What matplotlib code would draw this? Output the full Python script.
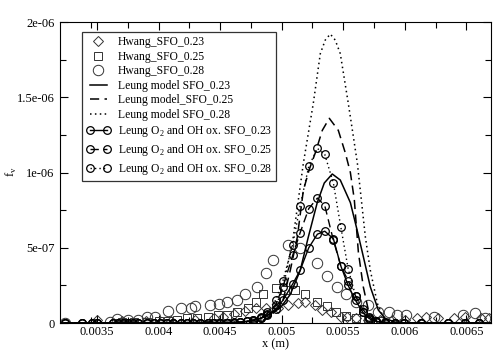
import matplotlib
matplotlib.use("Agg")
import matplotlib.pyplot as plt
from matplotlib.legend_handler import HandlerLine2D

plt.rcParams['font.family'] = ['Liberation Serif', 'DejaVu Serif']
plt.rcParams['mathtext.fontset'] = 'custom'
plt.rcParams['mathtext.rm'] = 'Liberation Serif'

SCALE = 1e-6

# ---- Hwang experimental data (y in units of 1e-6) ----
hw23_x = [0.0035, 0.0037, 0.0039, 0.0041, 0.0043, 0.00445, 0.00452, 0.00461, 0.0047, 0.00479,
          0.00487, 0.00497, 0.00505, 0.00513, 0.00519, 0.00527, 0.00533, 0.0054, 0.00548, 0.00553,
          0.0056, 0.0057, 0.0058, 0.0059, 0.006, 0.0061, 0.00617, 0.00627, 0.0064, 0.00649,
          0.00662, 0.00668]
hw23_y = [0.02, 0.01, 0.01, 0.01, 0.02, 0.03, 0.04, 0.06, 0.08, 0.10,
          0.10, 0.10, 0.12, 0.13, 0.14, 0.12, 0.086, 0.07, 0.04, 0.04,
          0.03, 0.02, 0.02, 0.02, 0.02, 0.03, 0.04, 0.03, 0.03, 0.04,
          0.03, 0.03]

hw25_x = [0.0037, 0.0038, 0.00391, 0.0040, 0.00408, 0.00415, 0.00423, 0.00431, 0.0044, 0.00448,
          0.00456, 0.00464, 0.00473, 0.00479, 0.00485, 0.00495, 0.00503, 0.00511, 0.00519, 0.00529,
          0.00537, 0.00544, 0.00552, 0.0056, 0.0057, 0.0058]
hw25_y = [0.005, 0.005, 0.007, 0.01, 0.01, 0.02, 0.033, 0.033, 0.04, 0.053,
          0.053, 0.073, 0.10, 0.14, 0.19, 0.23, 0.22, 0.22, 0.19, 0.14,
          0.11, 0.07, 0.047, 0.03, 0.02, 0.01]

hw28_x = [0.00324, 0.00361, 0.00366, 0.00375, 0.00383, 0.00391, 0.00397, 0.00408, 0.00418, 0.00426,
          0.0043, 0.00442, 0.00449, 0.00456, 0.00464, 0.0047, 0.0048, 0.00487, 0.00493, 0.00505,
          0.00515, 0.00529, 0.00537, 0.00545, 0.00552, 0.0056, 0.0057, 0.00578, 0.00587, 0.00594,
          0.00601, 0.00624, 0.00647, 0.00657, 0.00665]
hw28_y = [0.0, 0.007, 0.027, 0.02, 0.02, 0.04, 0.04, 0.08, 0.10, 0.10,
          0.113, 0.12, 0.126, 0.14, 0.15, 0.19, 0.24, 0.33, 0.42, 0.52,
          0.50, 0.40, 0.31, 0.24, 0.19, 0.14, 0.12, 0.07, 0.07, 0.05,
          0.05, 0.04, 0.05, 0.066, 0.03]

# ---- Leung model curves ----
lm23_x = [0.0032, 0.00466, 0.004745, 0.004826, 0.004907, 0.004989, 0.00507, 0.005151, 0.005216, 0.005289,
          0.005346, 0.005411, 0.005476, 0.005558, 0.005606, 0.005655, 0.00572, 0.005785, 0.005842, 0.005923,
          0.006005, 0.0067]
lm23_y = [0.0, 0.005, 0.015, 0.03, 0.06, 0.10, 0.19, 0.35, 0.57, 0.80,
          0.93, 0.99, 0.95, 0.80, 0.64, 0.47, 0.24, 0.086, 0.03, 0.005,
          0.0, 0.0]

lm25_x = [0.0032, 0.00472, 0.004826, 0.004907, 0.005005, 0.00507, 0.005127, 0.005176, 0.005224, 0.005273,
          0.00533, 0.005387, 0.00546, 0.005517, 0.005558, 0.00559, 0.005623, 0.005663, 0.005704, 0.005761,
          0.005842, 0.0067]
lm25_y = [0.0, 0.003, 0.01, 0.04, 0.13, 0.35, 0.57, 0.88, 1.02, 1.13,
          1.28, 1.36, 1.28, 1.13, 1.0, 0.82, 0.47, 0.24, 0.086, 0.02,
          0.0, 0.0]

lm28_x = [0.0032, 0.0047, 0.0048, 0.0049, 0.004932, 0.005013, 0.005094, 0.005176, 0.005257, 0.005314,
          0.005354, 0.005395, 0.005435, 0.005476, 0.005541, 0.005582, 0.005615, 0.00568, 0.00572, 0.005777,
          0.005826, 0.0059, 0.006, 0.0067]
lm28_y = [0.0, 0.003, 0.01, 0.04, 0.066, 0.24, 0.57, 1.06, 1.46, 1.79,
          1.88, 1.92, 1.88, 1.79, 1.46, 1.24, 1.06, 0.57, 0.35, 0.13,
          0.04, 0.01, 0.0, 0.0]

# ---- Leung O2 and OH oxidation model (shared grid) ----
ox_x = [0.00324, 0.00338, 0.00346, 0.0035, 0.00363, 0.00367, 0.00371, 0.00375, 0.00379, 0.00383,
        0.00391, 0.00396, 0.00401, 0.00407, 0.00412, 0.00418, 0.00423, 0.00428, 0.00434, 0.0044,
        0.00444, 0.0045, 0.00456, 0.00461, 0.00466, 0.00472, 0.00477, 0.00483, 0.00488, 0.00495,
        0.00501, 0.00509, 0.00515, 0.00522, 0.00529, 0.00535, 0.00542, 0.00548, 0.00554, 0.0056,
        0.00566, 0.00571, 0.00577, 0.00584, 0.00592, 0.00599, 0.00613, 0.00635, 0.00649, 0.0066]
ox23_y = [0]*23 + [0.003, 0.005, 0.01, 0.015, 0.03, 0.05, 0.09,
                   0.15, 0.26, 0.35, 0.50, 0.59, 0.61, 0.56, 0.38, 0.25, 0.15,
                   0.07, 0.03, 0.01, 0.003, 0, 0, 0, 0, 0, 0]
ox25_y = [0]*23 + [0.003, 0.005, 0.01, 0.02, 0.035, 0.06, 0.12,
                   0.24, 0.45, 0.60, 0.76, 0.83, 0.78, 0.55, 0.38, 0.28, 0.18,
                   0.09, 0.04, 0.015, 0.005, 0, 0, 0, 0, 0, 0]
ox28_y = [0]*22 + [0.003, 0.005, 0.008, 0.012, 0.02, 0.04, 0.07, 0.15,
                   0.28, 0.52, 0.78, 1.04, 1.16, 1.12, 0.93, 0.64, 0.36, 0.18,
                   0.07, 0.025, 0.008, 0.002, 0, 0, 0, 0, 0, 0]

labels = ["Hwang_SFO_0.23", "Hwang_SFO_0.25", "Hwang_SFO_0.28",
          "Leung model SFO_0.23", "Leung model_SFO_0.25", "Leung model SFO_0.28",
          r"Leung O$_\mathregular{2}$ and OH ox. SFO_0.23",
          r"Leung O$_\mathregular{2}$ and OH ox. SFO_0.25",
          r"Leung O$_\mathregular{2}$ and OH ox. SFO_0.28"]

xticks = [0.0035, 0.004, 0.0045, 0.005, 0.0055, 0.006, 0.0065]
xticklabels = ["0.0035", "0.004", "0.0045", "0.005", "0.0055", "0.006", "0.0065"]
yticks = [0, 5e-7, 1e-6, 1.5e-6, 2e-6]
yticklabels = ["0", "5e-07", "1e-06", "1.5e-06", "2e-06"]

def s(v):
    return [a * SCALE for a in v]

fig = plt.figure(figsize=(4.99, 3.53), dpi=100)
ax = fig.add_axes([60/499, 1-323/353, 431/499, 301/353])

dot = (0, (1, 2.2))
dash = (0, (6, 3.5))
mc = '#333333'

h1, = ax.plot(hw23_x, s(hw23_y), ls='none', marker='D', ms=5, mfc='none', mec=mc, mew=0.7)
h2, = ax.plot(hw25_x, s(hw25_y), ls='none', marker='s', ms=6, mfc='none', mec=mc, mew=0.7)
h3, = ax.plot(hw28_x, s(hw28_y), ls='none', marker='o', ms=7.5, mfc='none', mec=mc, mew=0.7)
l1, = ax.plot(lm23_x, s(lm23_y), color='black', lw=1.1, ls='-')
l2, = ax.plot(lm25_x, s(lm25_y), color='black', lw=1.1, ls=dash)
l3, = ax.plot(lm28_x, s(lm28_y), color='black', lw=1.1, ls=dot)
o1, = ax.plot(ox_x, s(ox23_y), color='black', lw=1.0, ls='-', marker='o', ms=5.5, mfc='none', mec='black', mew=0.9)
o2, = ax.plot(ox_x, s(ox25_y), color='black', lw=1.0, ls=dash, marker='o', ms=5.5, mfc='none', mec='black', mew=0.9)
o3, = ax.plot(ox_x, s(ox28_y), color='black', lw=1.0, ls=dot, marker='o', ms=5.5, mfc='none', mec='black', mew=0.9)

ax.set_xlim(0.0032, 0.0067)
ax.set_ylim(0, 2e-6)
ax.set_xticks(xticks)
ax.set_xticklabels(xticklabels)
ax.set_yticks(yticks)
ax.set_yticklabels(yticklabels)
ax.set_xticks([t + 0.00025 for t in [0.0032] + xticks[:-1]] , minor=True)
ax.set_yticks([2.5e-7, 7.5e-7, 1.25e-6, 1.75e-6], minor=True)
ax.tick_params(which='both', direction='in', top=True, right=True, labelsize=9)
ax.tick_params(axis='x', pad=2.5)
ax.tick_params(axis='y', pad=4)
ax.tick_params(which='major', length=6, width=0.8)
ax.tick_params(which='minor', length=4, width=0.8)
for sp in ax.spines.values():
    sp.set_linewidth(0.8)

ax.set_xlabel("x (m)", fontsize=9, labelpad=0)
fig.text(0.022, 1-172/353, r"f$_\mathregular{v}$", rotation=90, fontsize=9, ha='center', va='center')

handles = [h1, h2, h3, l1, l2, l3, o1, o2, o3]
leg = ax.legend(handles, labels, loc='upper left', bbox_to_anchor=(22/431, 1-10/301),
                fontsize=8.4, frameon=True, fancybox=False, edgecolor='black',
                borderpad=0.35, labelspacing=0.22, handlelength=2.1, handletextpad=0.6,
                numpoints=2, borderaxespad=0,
                handler_map={h1: HandlerLine2D(numpoints=1), h2: HandlerLine2D(numpoints=1),
                             h3: HandlerLine2D(numpoints=1)})
leg.get_frame().set_linewidth(0.9)

fig.savefig("out.png", dpi=100)
